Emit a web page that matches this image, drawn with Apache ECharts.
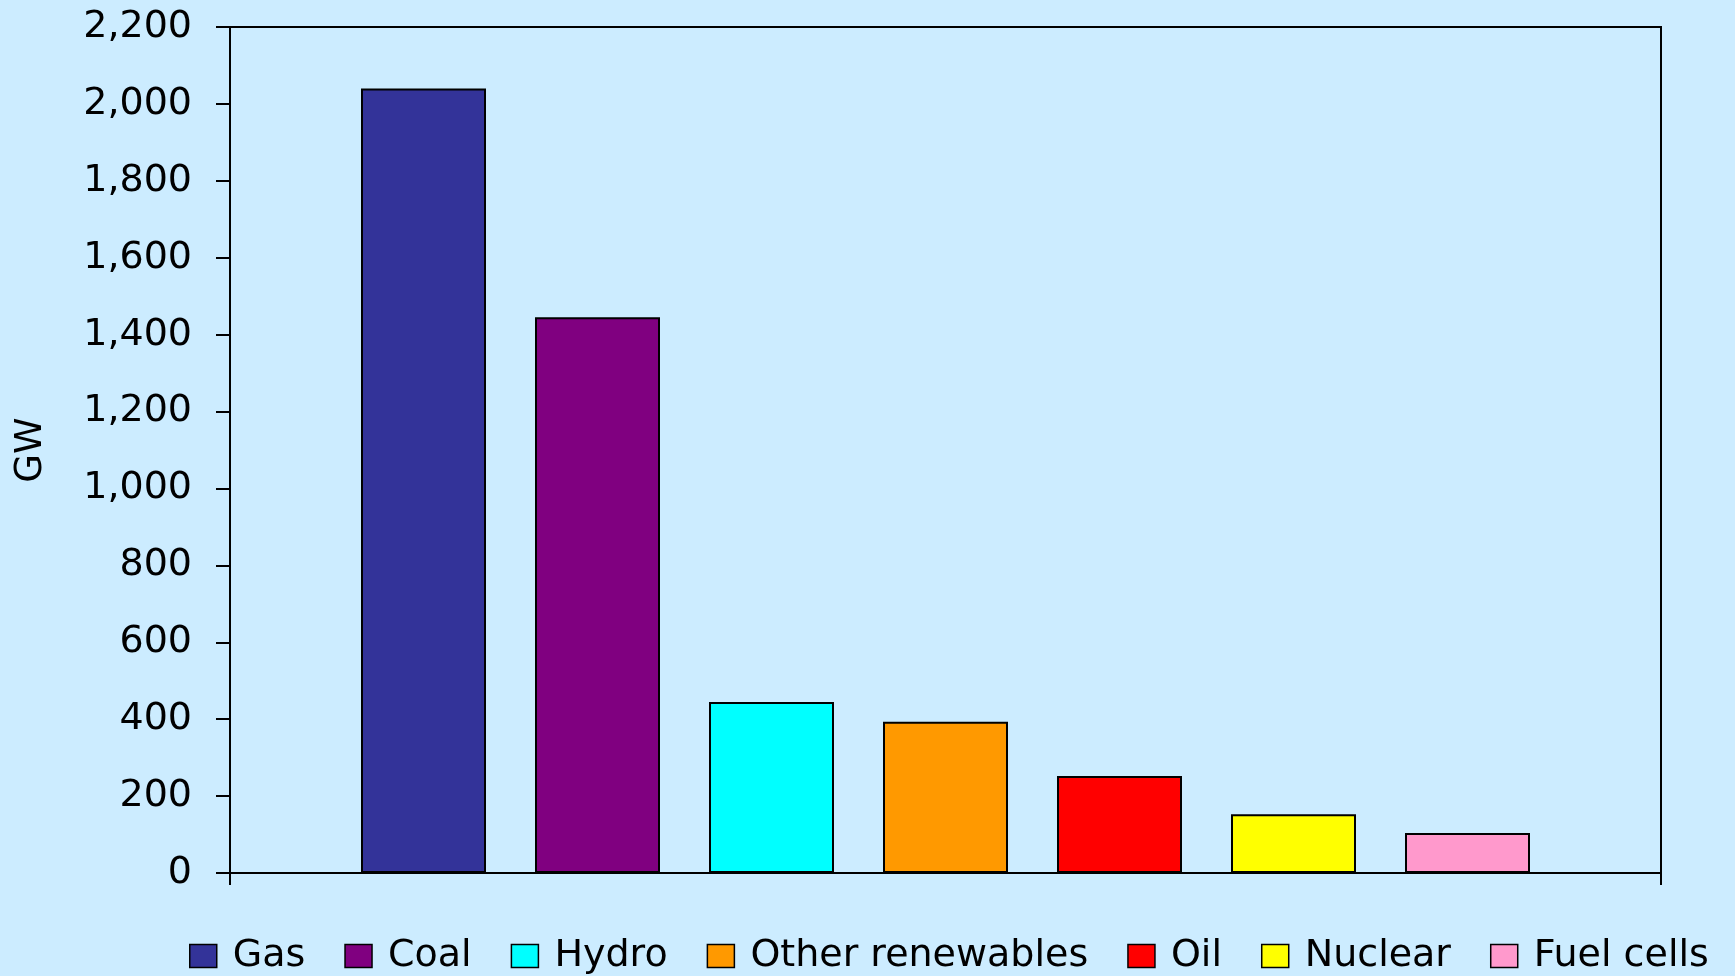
<!DOCTYPE html>
<html>
<head>
<meta charset="utf-8">
<script src="https://cdn.jsdelivr.net/npm/echarts@6/dist/echarts.min.js"></script>
<style>
  html, body { margin: 0; padding: 0; background: #ccecff; }
  #chart { width: 1735px; height: 976px; }
</style>
</head>
<body>
<div id="chart"></div>
<script>
  // Capacity by source, GW
  var sources = ["Gas", "Coal", "Hydro", "Other renewables", "Oil", "Nuclear", "Fuel cells"];
  var capacity = [2040, 1445, 445, 393, 252, 153, 104];
  var colors = ["#333399", "#800080", "#00ffff", "#ff9900", "#ff0000", "#ffff00", "#ff99cc"];
  var yTicks = { min: 0, max: 2200, interval: 200 };

  var font = "DejaVu Sans";

  var series = sources.map(function(name, i) {
    return {
      name: name,
      type: "bar",
      data: [capacity[i]],
      barWidth: 125,
      barGap: "39.2%",
      itemStyle: {
        color: colors[i],
        borderColor: "#000",
        borderWidth: 2
      }
    };
  });

  var chart = echarts.init(document.getElementById("chart"));

  chart.setOption({
    backgroundColor: "#ccecff",
    animation: false,
    color: colors,
    grid: {
      left: 230,
      right: 74,
      top: 27,
      bottom: 103,
      containLabel: false,
      outerBoundsMode: "none",
      show: true,
      borderColor: "#000",
      borderWidth: 2,
      backgroundColor: "transparent"
    },
    legend: {
      data: sources,
      left: 189,
      top: 937,
      width: 1546,
      padding: 0,
      itemGap: 39,
      itemWidth: 27,
      itemHeight: 23,
      icon: "rect",
      itemStyle: { borderColor: "#000", borderWidth: 1.5 },
      textStyle: {
        fontFamily: font,
        fontSize: 38,
        color: "#000",
        padding: [0, 0, 0, 11]
      }
    },
    xAxis: {
      type: "category",
      data: [""],
      axisLine: { lineStyle: { color: "#000", width: 2 } },
      axisTick: { show: true, length: 12, lineStyle: { color: "#000", width: 2 } },
      axisLabel: { show: false },
      splitLine: { show: false }
    },
    yAxis: {
      type: "value",
      min: yTicks.min,
      max: yTicks.max,
      interval: yTicks.interval,
      name: "GW",
      nameLocation: "middle",
      nameGap: 180,
      nameRotate: 90,
      nameTextStyle: { fontFamily: font, fontSize: 37, color: "#000" },
      axisLine: { show: true, lineStyle: { color: "#000", width: 2 } },
      axisTick: { show: true, length: 14, lineStyle: { color: "#000", width: 2 } },
      axisLabel: {
        margin: 38,
        fontFamily: font,
        fontSize: 38,
        color: "#000",
        formatter: function(v) { return v.toLocaleString("en-US"); }
      },
      splitLine: { show: false }
    },
    series: series
  });
</script>
</body>
</html>
